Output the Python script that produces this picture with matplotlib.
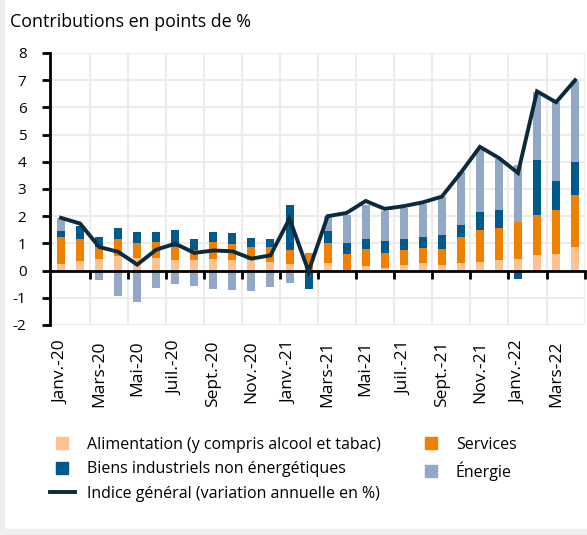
import matplotlib.pyplot as plt
import numpy as np
from matplotlib.lines import Line2D
from matplotlib.patches import Rectangle

plt.rcParams['font.family'] = ['Open Sans', 'DejaVu Sans']

months = ["Janv.-20", "Févr.-20", "Mars-20", "Avr.-20", "Mai-20", "Juin-20",
          "Juil.-20", "Août-20", "Sept.-20", "Oct.-20", "Nov.-20", "Déc.-20",
          "Janv.-21", "Févr.-21", "Mars-21", "Avr.-21", "Mai-21", "Juin-21",
          "Juil.-21", "Août-21", "Sept.-21", "Oct.-21", "Nov.-21", "Déc.-21",
          "Janv.-22", "Févr.-22", "Mars-22", "Avr.-22"]

food = [0.25, 0.34, 0.42, 0.55, 0.47, 0.47, 0.38, 0.38, 0.43, 0.40, 0.38, 0.31,
        0.23, 0.03, 0.28, 0.04, 0.16, 0.11, 0.20, 0.27, 0.22, 0.29, 0.31, 0.40,
        0.44, 0.58, 0.60, 0.85]
services = [0.98, 0.82, 0.46, 0.61, 0.55, 0.58, 0.49, 0.39, 0.61, 0.57, 0.49, 0.55,
            0.54, 0.62, 0.74, 0.56, 0.65, 0.55, 0.56, 0.56, 0.58, 0.94, 1.20, 1.16,
            1.34, 1.47, 1.62, 1.94]
neig = [0.22, 0.47, 0.37, 0.42, 0.40, 0.38, 0.63, 0.41, 0.38, 0.43, 0.33, 0.32,
        1.64, -0.66, 0.45, 0.43, 0.37, 0.44, 0.40, 0.42, 0.51, 0.46, 0.66, 0.68,
        -0.31, 2.01, 1.08, 1.21]
energy = [0.49, 0.0, -0.36, -0.92, -1.15, -0.65, -0.51, -0.58, -0.67, -0.71, -0.75, -0.59,
          -0.45, 0.0, 0.53, 1.03, 1.25, 1.08, 1.13, 1.21, 1.39, 1.93, 2.28, 1.88,
          2.12, 2.52, 2.89, 2.97]
headline = [1.94, 1.73, 0.87, 0.69, 0.22, 0.77, 0.99, 0.65, 0.74, 0.71, 0.44, 0.56,
            1.91, -0.03, 2.00, 2.12, 2.56, 2.27, 2.37, 2.51, 2.72, 3.60, 4.55, 4.14,
            3.59, 6.59, 6.19, 7.00]

series = [
    ("Alimentation (y compris alcool et tabac)", food, "#fbc38f"),
    ("Biens industriels non énergétiques", neig, "#005b8c"),
    ("Services", services, "#f08000"),
    ("Énergie", energy, "#91a8c6"),
]
stack_order = [0, 2, 1, 3]  # food, services, neig, energy from the bottom
line_color = "#0b2a3c"

fig = plt.figure(figsize=(5.87, 5.35), dpi=100)
fig.patches.append(Rectangle((0, 0), 4 / 587, 1, transform=fig.transFigure,
                             color="#efefef", zorder=-10))
fig.patches.append(Rectangle((0, 0), 1, 6 / 535, transform=fig.transFigure,
                             color="#efefef", zorder=-10))

ax = fig.add_axes([50 / 587, 1 - 325 / 535, 535 / 587, 272 / 535])
x = np.arange(len(months))

pos_bottom = np.zeros(len(months))
neg_bottom = np.zeros(len(months))
for i in stack_order:
    name, vals, color = series[i]
    vals = np.array(vals)
    pos = np.where(vals > 0, vals, 0)
    neg = np.where(vals < 0, vals, 0)
    ax.bar(x, pos, 0.42, bottom=pos_bottom, color=color, zorder=3)
    ax.bar(x, neg, 0.42, bottom=neg_bottom, color=color, zorder=3)
    pos_bottom += pos
    neg_bottom += neg

ax.plot(x, headline, color=line_color, lw=2.8, zorder=5, solid_joinstyle="miter")

ax.set_xlim(-0.58, 27.52)
ax.set_ylim(-2, 8)
ax.set_yticks(range(-2, 9))
ax.set_yticklabels([str(v) for v in range(-2, 9)], fontsize=11)

ax.spines["top"].set_visible(False)
ax.spines["right"].set_visible(False)
ax.spines["left"].set_linewidth(2)
ax.spines["bottom"].set_position(("data", 0))
ax.spines["bottom"].set_linewidth(2)
ax.spines["bottom"].set_zorder(4)
ax.tick_params(axis="y", length=6, width=2, pad=11)

ax.set_xticks(x[::2])
ax.set_xticklabels(months[::2], rotation=90, fontsize=12.5)
ax.set_xticks(np.arange(1.5, 28, 2), minor=True)
ax.tick_params(axis="x", which="major", length=0, pad=50)
ax.tick_params(axis="x", which="minor", length=6, width=2, direction="out")

ax.grid(False)
for yv in range(-2, 9):
    ax.axhline(yv, color="#ececec", lw=1.5, zorder=0)
for xv in np.arange(1.5, 28, 2):
    ax.axvline(xv, color="#ececec", lw=1.5, zorder=0)

fig.text(10 / 587, 1 - 22 / 535, "Contributions en points de %", fontsize=12.9,
         va="center", ha="left")

def square(color):
    return Line2D([], [], marker="s", markersize=9, linestyle="none",
                  color=color)

handles = [square(series[0][2]), square(series[1][2]),
           Line2D([], [], color=line_color, lw=2.8),
           square(series[2][2]), square(series[3][2])]
labels = [series[0][0], series[1][0], "Indice général (variation annuelle en %)",
          series[2][0], series[3][0]]
fig.legend(handles, labels, ncol=2, frameon=False, fontsize=11.5,
           loc="upper left", bbox_to_anchor=(50 / 587, 1 - 437 / 535),
           handlelength=1.55, handletextpad=0.75,
           columnspacing=2.4, labelspacing=0.52, borderpad=0, borderaxespad=0)

fig.savefig("out.png", dpi=100)
